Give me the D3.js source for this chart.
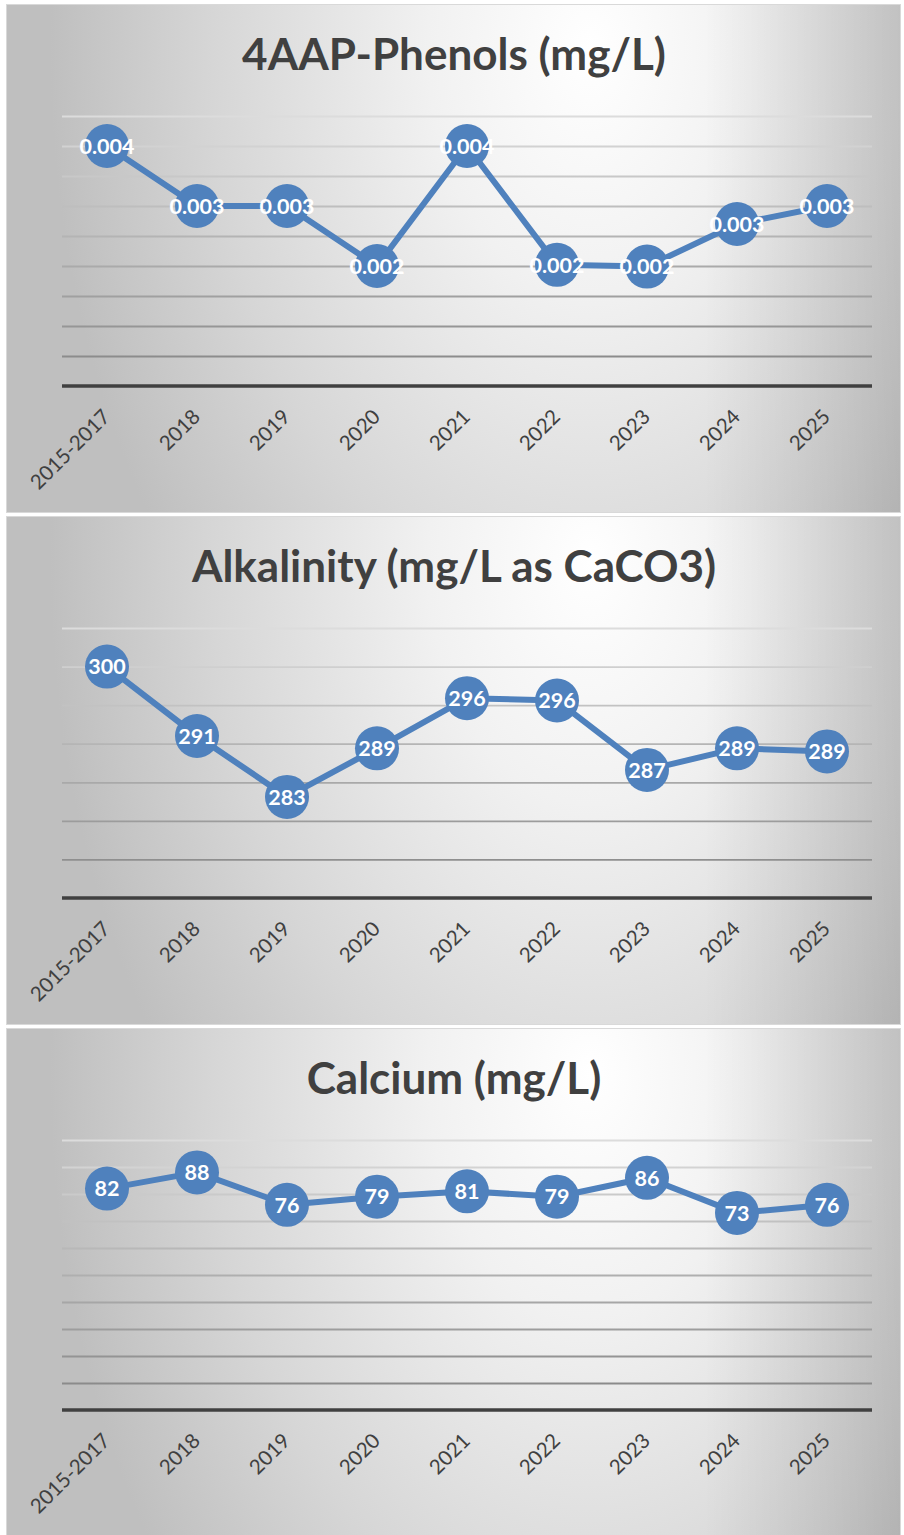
<!DOCTYPE html>
<html>
<head>
<meta charset="utf-8">
<script src="https://cdn.jsdelivr.net/npm/d3@7"></script>
<style>
  html, body { margin: 0; padding: 0; background: #ffffff; }
  svg { display: block; }
  text { font-family: Lato, "Open Sans", sans-serif; }
</style>
</head>
<body>
<div id="chart"></div>
<script>
// ---- Data ----
const categories = ["2015-2017", "2018", "2019", "2020", "2021", "2022", "2023", "2024", "2025"];

const phenolsTitle = "4AAP-Phenols (mg/L)";
const phenolsValues = [0.004, 0.003, 0.003, 0.002, 0.004, 0.00202, 0.00199, 0.0027, 0.003];
const phenolsDomain = [0, 0.0045];
const phenolsTickStep = 0.0005;

const alkalinityTitle = "Alkalinity (mg/L as CaCO3)";
const alkalinityValues = [300, 291, 283.1, 289.4, 295.9, 295.6, 286.6, 289.4, 289.0];
const alkalinityDomain = [270, 305];
const alkalinityTickStep = 5;

const calciumTitle = "Calcium (mg/L)";
const calciumValues = [82, 88, 76, 79, 81, 79, 86, 73, 76];
const calciumDomain = [0, 100];
const calciumTickStep = 10;

const panels = [
  { title: phenolsTitle, values: phenolsValues, domain: phenolsDomain, step: phenolsTickStep, fmt: ".3f" },
  { title: alkalinityTitle, values: alkalinityValues, domain: alkalinityDomain, step: alkalinityTickStep, fmt: ".0f" },
  { title: calciumTitle, values: calciumValues, domain: calciumDomain, step: calciumTickStep, fmt: ".0f" }
];

// ---- Layout ----
const W = 904, H = 1535;
const panelX = 6, panelW = 895, panelH = 509;
const panelTops = [4, 516, 1028];
const plotLeft = 62, plotRight = 872;   // relative to page
const plotTop = 112, plotBottom = 382;  // relative to panel top
const blue = "#4f81bd";
const gridColor = d3.interpolateRgb("#dcdcdc", "#828282");

const svg = d3.select("#chart").append("svg")
  .attr("width", W).attr("height", H);

const defs = svg.append("defs");

// right-edge shading overlay
const edge = defs.append("linearGradient").attr("id", "edgeR")
  .attr("x1", 0).attr("x2", 1).attr("y1", 0).attr("y2", 0);
edge.append("stop").attr("offset", 0).attr("stop-color", "#000").attr("stop-opacity", 0);
edge.append("stop").attr("offset", 0.78).attr("stop-color", "#000").attr("stop-opacity", 0);
edge.append("stop").attr("offset", 1).attr("stop-color", "#000").attr("stop-opacity", 0.13);

panels.forEach((p, i) => {
  const top = panelTops[i];
  // background radial gradient
  const gid = "bg" + i;
  const cx = 590, cy = top + 45;
  const rg = defs.append("radialGradient")
    .attr("id", gid)
    .attr("gradientUnits", "userSpaceOnUse")
    .attr("cx", cx).attr("cy", cy)
    .attr("r", 540)
    .attr("fx", cx).attr("fy", cy)
    .attr("gradientTransform", `translate(${cx},${cy}) scale(1,1.5) translate(${-cx},${-cy})`);
  rg.append("stop").attr("offset", 0).attr("stop-color", "#ffffff");
  rg.append("stop").attr("offset", 0.3).attr("stop-color", "#f1f1f1");
  rg.append("stop").attr("offset", 0.7).attr("stop-color", "#d6d6d6");
  rg.append("stop").attr("offset", 1).attr("stop-color", "#bfbfbf");

  const g = svg.append("g");

  g.append("rect")
    .attr("x", panelX + 0.5).attr("y", top + 0.5)
    .attr("width", panelW - 1).attr("height", panelH - 1)
    .attr("fill", `url(#${gid})`)
    .attr("stroke", "#d9d9d9").attr("stroke-width", 1);
  g.append("rect")
    .attr("x", panelX + 1).attr("y", top + 1)
    .attr("width", panelW - 2).attr("height", panelH - 2)
    .attr("fill", "url(#edgeR)");

  // title
  g.append("text")
    .attr("x", 454).attr("y", top + 66)
    .attr("text-anchor", "middle")
    .attr("font-size", 44).attr("font-weight", 700)
    .attr("fill", "#404040")
    .text(p.title);

  const x = d3.scalePoint().domain(categories).range([plotLeft, plotRight]).padding(0.5);
  const y = d3.scaleLinear().domain(p.domain).range([top + plotBottom, top + plotTop]);

  const ticks = d3.range(p.domain[0] + p.step, p.domain[1] + p.step / 2, p.step);

  // gridlines
  const yAxis = d3.axisLeft(y).tickValues(ticks).tickSize(-(plotRight - plotLeft)).tickFormat("");
  const ga = g.append("g").attr("transform", `translate(${plotLeft},0)`).call(yAxis);
  ga.select(".domain").remove();
  ga.selectAll(".tick line")
    .attr("stroke", d => gridColor((y(d) - (top + plotTop)) / (plotBottom - plotTop)))
    .attr("stroke-width", 1.8);

  // x axis line + labels
  const xAxis = d3.axisBottom(x).tickSize(0).tickPadding(0);
  const gx = g.append("g").attr("transform", `translate(0,${top + plotBottom})`).call(xAxis);
  gx.select(".domain").remove();
  gx.append("line")
    .attr("x1", plotLeft).attr("x2", plotRight)
    .attr("y1", 0).attr("y2", 0)
    .attr("stroke", "#404040").attr("stroke-width", 3.5);
  gx.selectAll(".tick text")
    .attr("font-family", "Lato, 'Open Sans', sans-serif")
    .attr("font-size", 20.5)
    .attr("fill", "#404040")
    .attr("text-anchor", "end")
    .attr("dy", 0)
    .attr("y", 0)
    .attr("transform", "translate(4,32) rotate(-45)");

  // line
  const line = d3.line().x((d, j) => x(categories[j])).y(d => y(d));
  g.append("path")
    .datum(p.values)
    .attr("d", line)
    .attr("fill", "none")
    .attr("stroke", blue)
    .attr("stroke-width", 6)
    .attr("stroke-linejoin", "round");

  // markers
  g.selectAll("circle.m").data(p.values).join("circle")
    .attr("class", "m")
    .attr("cx", (d, j) => x(categories[j]))
    .attr("cy", d => y(d))
    .attr("r", 22)
    .attr("fill", blue);

  // data labels
  const f = d3.format(p.fmt);
  g.selectAll("text.lbl").data(p.values).join("text")
    .attr("class", "lbl")
    .attr("x", (d, j) => x(categories[j]))
    .attr("y", d => y(d))
    .attr("dy", "0.36em")
    .attr("text-anchor", "middle")
    .attr("font-size", 21.5).attr("font-weight", 700)
    .attr("fill", "#ffffff")
    .text(d => f(d));
});
</script>
</body>
</html>
